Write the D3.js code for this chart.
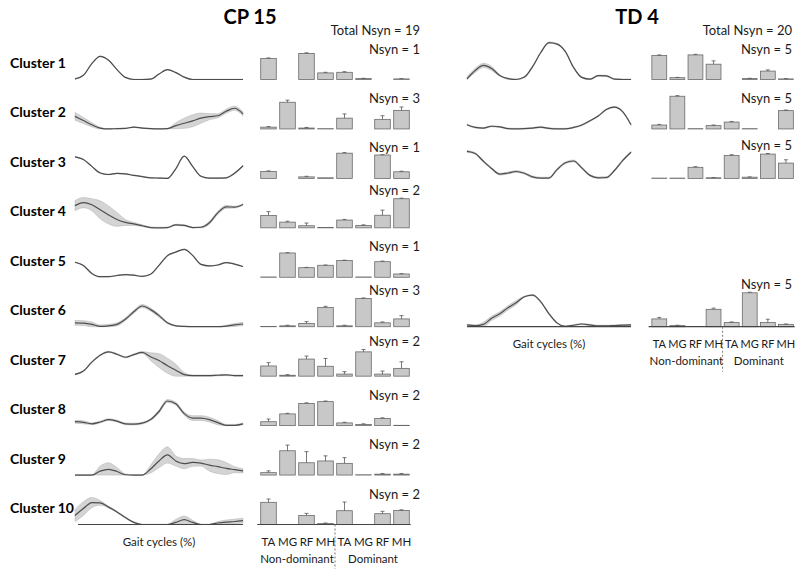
<!DOCTYPE html>
<html><head><meta charset="utf-8">
<script src="https://cdn.jsdelivr.net/npm/d3@7"></script>
<style>
body{margin:0;background:#fff;}
text{font-family:Lato,"Open Sans",sans-serif;fill:#1a1a1a;}
</style>
</head><body>
<svg id="chart" width="800" height="569"></svg>
<script>
// ---------------- DATA ----------------
const gaitPct = d3.range(0, 101, 5);                 // 0,5,...,100 % of gait cycle
const muscles = ["TA","MG","RF","MH","TA","MG","RF","MH"];
const sides = ["Non-dominant","Dominant"];

const cpTitle = "CP 15", tdTitle = "TD 4";
const cpTotal = 19, tdTotal = 20;
const cpClusters = ["Cluster 1","Cluster 2","Cluster 3","Cluster 4","Cluster 5","Cluster 6","Cluster 7","Cluster 8","Cluster 9","Cluster 10"];
const cpRows = [1,2,3,4,5,6,7,8,9,10];
const cpNsyn = [1,3,1,2,1,3,2,2,2,2];
const tdRows = [1,2,3,6];
const tdNsyn = [5,5,5,5];

// activation patterns (mean, normalised) for the CP clusters
const cpAct = [
 [0.02,0.14,0.53,0.77,0.64,0.33,0.07,0,0,0.01,0.18,0.33,0.23,0.08,0,0,0,0,0,0,0],
 [0.42,0.28,0.14,0.03,0,0.01,0.02,0.06,0.03,0.01,0,0.01,0.11,0.19,0.27,0.36,0.41,0.44,0.59,0.69,0.50],
 [0.72,0.63,0.40,0.18,0.13,0.17,0.15,0.10,0.06,0.02,0.01,0,0.32,0.74,0.40,0.07,0.01,0.01,0.02,0.17,0.42],
 [0.74,0.84,0.77,0.60,0.43,0.28,0.18,0.13,0.07,0.01,0,0.01,0.10,0.08,0.01,0.02,0.17,0.50,0.70,0.69,0.78],
 [0.50,0.39,0.13,0.02,0.02,0.06,0.09,0.07,0.03,0.10,0.40,0.72,0.84,0.93,0.73,0.43,0.38,0.41,0.49,0.44,0.36],
 [0.13,0.12,0.08,0.01,0.03,0.08,0.25,0.50,0.69,0.57,0.37,0.13,0.03,0.01,0,0,0,0,0.02,0.06,0.09],
 [0.06,0.17,0.47,0.70,0.81,0.73,0.63,0.72,0.79,0.65,0.52,0.35,0.20,0.05,0.02,0.02,0.02,0.03,0.04,0.02,0.02],
 [0.13,0.11,0.06,0.12,0.20,0.15,0.06,0.05,0.08,0.20,0.47,0.82,0.73,0.40,0.25,0.25,0.20,0.10,0.01,0.01,0.06],
 [0,0,0,0.13,0.19,0.12,0.01,0,0,0.20,0.47,0.67,0.47,0.38,0.42,0.40,0.33,0.28,0.22,0.18,0.14],
 [0.30,0.53,0.73,0.72,0.58,0.42,0.23,0.07,0,0,0,0,0.07,0.16,0.07,0,0,0.05,0.08,0.10,0.13]
];
const cpActSd = [
 [0.01,0.01,0.01,0.01,0.01,0.01,0.01,0.01,0.01,0.01,0.01,0.01,0.01,0.01,0.01,0.01,0.01,0.01,0.01,0.01,0.01],
 [0.13,0.10,0.07,0.03,0.01,0.01,0.01,0.01,0.01,0.01,0.01,0.01,0.10,0.17,0.20,0.17,0.10,0.07,0.07,0.07,0.07],
 [0.01,0.01,0.01,0.01,0.01,0.01,0.01,0.01,0.01,0.01,0.01,0.01,0.01,0.01,0.01,0.01,0.01,0.01,0.01,0.02,0.02],
 [0.17,0.17,0.20,0.30,0.30,0.23,0.10,0.05,0.03,0.02,0.02,0.02,0.02,0.02,0.02,0.02,0.05,0.05,0.05,0.03,0.02],
 [0.01,0.01,0.01,0.01,0.01,0.01,0.01,0.01,0.01,0.01,0.01,0.01,0.01,0.01,0.01,0.01,0.01,0.01,0.01,0.01,0.01],
 [0.08,0.08,0.08,0.05,0.05,0.05,0.05,0.05,0.05,0.05,0.05,0.03,0.01,0.01,0.01,0.01,0.01,0.01,0.03,0.05,0.05],
 [0.02,0.02,0.02,0.02,0.02,0.02,0.02,0.02,0.03,0.13,0.23,0.25,0.20,0.07,0.02,0.02,0.02,0.02,0.02,0.02,0.02],
 [0.05,0.05,0.03,0.03,0.03,0.03,0.03,0.03,0.03,0.03,0.05,0.05,0.05,0.05,0.08,0.08,0.08,0.07,0.03,0.03,0.03],
 [0.01,0.01,0.01,0.17,0.22,0.13,0.03,0.01,0.01,0.13,0.23,0.27,0.17,0.17,0.13,0.10,0.20,0.23,0.20,0.10,0.07],
 [0.20,0.23,0.17,0.08,0.03,0.02,0.02,0.02,0.01,0.01,0.01,0.01,0.10,0.12,0.07,0.01,0.01,0.05,0.07,0.08,0.08]
];
// muscle weightings (mean, sd) for the CP clusters
const cpW = [
 [0.70,0,0.87,0.22,0.24,0.03,0,0.02],
 [0.06,0.89,0.03,0.01,0.36,0,0.32,0.62],
 [0.23,0,0.05,0.02,0.84,0,0.78,0.22],
 [0.41,0.19,0.07,0.01,0.26,0.08,0.42,0.97],
 [0.01,0.81,0.32,0.40,0.56,0.01,0.52,0.11],
 [0.01,0.03,0.11,0.64,0.03,0.94,0.13,0.26],
 [0.34,0.03,0.57,0.33,0.07,0.81,0.07,0.26],
 [0.13,0.39,0.74,0.80,0.09,0.04,0.24,0.01],
 [0.08,0.81,0.41,0.47,0.39,0.01,0.03,0.03],
 [0.74,0,0.30,0.03,0.46,0,0.36,0.47]
];
const cpWSd = [
 [0.02,0,0.02,0.02,0.02,0.01,0,0.01],
 [0.02,0.07,0.02,0,0.14,0,0.12,0.11],
 [0.02,0,0.02,0,0.02,0,0.01,0.02],
 [0.13,0.03,0.09,0,0.02,0.02,0.17,0.02],
 [0,0.01,0.01,0.01,0.01,0,0.02,0.01],
 [0,0.02,0.06,0.04,0.02,0.02,0.03,0.11],
 [0.11,0.02,0.10,0.26,0.08,0.08,0.10,0.22],
 [0.09,0.02,0.02,0.02,0.02,0.02,0.02,0],
 [0.06,0.19,0.37,0.17,0.19,0,0.02,0.02],
 [0.11,0,0.07,0.02,0.29,0,0.08,0.02]
];
// TD synergies
const tdAct = [
 [0.02,0.30,0.47,0.37,0.13,0.03,0,0.08,0.43,0.90,1.23,1.18,0.93,0.40,0.07,0.01,0.13,0.12,0.01,0,0],
 [0.14,0.05,0.03,0.09,0.07,0.01,0,0.01,0.03,0.06,0.02,0,0,0.05,0.13,0.27,0.43,0.65,0.73,0.57,0.14],
 [0.90,0.83,0.57,0.33,0.14,0.18,0.23,0.17,0.05,0.01,0.01,0.30,0.52,0.58,0.35,0.10,0.02,0.03,0.27,0.60,0.87],
 [0.06,0.04,0.08,0.28,0.43,0.63,0.80,1.00,1.05,0.83,0.43,0.12,0.01,0.05,0.09,0.06,0.03,0.03,0.04,0.05,0.06]
];
const tdActSd = [
 [0.07,0.07,0.07,0.07,0.02,0.02,0.02,0.02,0.02,0.02,0.02,0.02,0.02,0.02,0.02,0.02,0.02,0.02,0.02,0.02,0.02],
 [0.02,0.02,0.02,0.02,0.02,0.02,0.02,0.02,0.02,0.02,0.02,0.02,0.02,0.02,0.02,0.02,0.02,0.02,0.02,0.02,0.02],
 [0.03,0.03,0.03,0.03,0.03,0.03,0.03,0.03,0.03,0.03,0.03,0.03,0.03,0.03,0.03,0.03,0.03,0.03,0.03,0.03,0.03],
 [0.02,0.02,0.07,0.07,0.07,0.07,0.07,0.02,0.02,0.02,0.02,0.02,0.02,0.02,0.02,0.02,0.02,0.02,0.02,0.02,0.02]
];
const tdW = [
 [0.80,0.06,0.82,0.51,0,0.03,0.28,0.02],
 [0.13,1.09,0.01,0.11,0.23,0.01,0,0.61],
 [0.01,0.01,0.37,0.02,0.76,0.04,0.81,0.51],
 [0.26,0.04,0,0.58,0.14,1.13,0.14,0.08]
];
const tdWSd = [
 [0.02,0.01,0.02,0.11,0,0.01,0.04,0.01],
 [0.02,0.02,0,0.02,0.02,0,0,0.02],
 [0,0,0.02,0.01,0.03,0.01,0.02,0.11],
 [0.05,0.01,0,0.04,0.02,0.02,0.11,0.01]
];

// ---------------- DRAWING ----------------
const svg = d3.select("#chart");
const rowY = d3.scaleLinear().domain([1, 10]).range([79.5, 524.5]);   // baseline of each row
const h = d3.scaleLinear().domain([0, 1]).range([0, 30]);              // value -> height

const LINE = "#4d4d4d", BAND = "#d4d4d4", BANDSTROKE = "#b0b0b0", BAR = "#c8c8c8", BARSTROKE = "#6a6a6a";

function panel(cfg) {
  const g = svg.append("g");
  const x = d3.scaleLinear().domain([0, 100]).range(cfg.lineRange);
  const xb = d3.scaleBand().domain(d3.range(muscles.length)).range(cfg.barRange).padding(0.18);

  svg.append("text").attr("x", cfg.titleX).attr("y", 16).attr("text-anchor", "middle")
     .attr("dominant-baseline", "central").attr("font-size", 20).attr("font-weight", "bold")
     .style("fill", "#000").text(cfg.title);
  svg.append("text").attr("x", cfg.labelX).attr("y", 30).attr("text-anchor", "end")
     .attr("dominant-baseline", "central").attr("font-size", 13).text("Total Nsyn = " + cfg.total);

  cfg.rows.forEach((r, i) => {
    const base = rowY(r);
    const line = d3.line().x((d, k) => x(gaitPct[k])).y(d => base - h(d)).curve(d3.curveMonotoneX);
    const area = d3.area().x((d, k) => x(gaitPct[k]))
       .y0((d, k) => base - h(Math.max(0, d - cfg.actSd[i][k])))
       .y1((d, k) => base - h(d + cfg.actSd[i][k])).curve(d3.curveMonotoneX);
    g.append("path").datum(cfg.act[i]).attr("d", area).attr("fill", BAND)
      .attr("stroke", BANDSTROKE).attr("stroke-width", 0.5);
    g.append("path").datum(cfg.act[i]).attr("d", line).attr("fill", "none")
      .attr("stroke", LINE).attr("stroke-width", 1.2);

    if (cfg.labels) {
      g.append("text").attr("x", 10).attr("y", base - 17).attr("dominant-baseline", "central")
        .attr("font-size", 14).attr("font-weight", "bold").style("fill", "#000").text(cfg.labels[i]);
    }

    // Nsyn label sits above the bars that lie beneath it
    const labelW = 50;
    let topUnder = base;
    cfg.w[i].forEach((v, m) => {
      if (xb(m) + xb.bandwidth() > cfg.labelX - labelW) topUnder = Math.min(topUnder, base - h(v + cfg.wSd[i][m]));
    });
    const ly = Math.min(base - 31, topUnder - 8);
    g.append("text").attr("x", cfg.labelX).attr("y", ly).attr("text-anchor", "end")
      .attr("dominant-baseline", "central").attr("font-size", 13).text("Nsyn = " + cfg.nsyn[i]);

    const bars = g.append("g");
    cfg.w[i].forEach((v, m) => {
      if (v <= 0) return;
      const x0 = xb(m), bw = xb.bandwidth(), top = base - h(v);
      bars.append("rect").attr("x", x0).attr("y", top).attr("width", bw).attr("height", h(v))
        .attr("fill", BAR).attr("stroke", BARSTROKE).attr("stroke-width", 0.8);
      const sd = cfg.wSd[i][m];
      if (sd > 0) {
        const cx = x0 + bw / 2, et = base - h(v + sd);
        bars.append("line").attr("x1", cx).attr("x2", cx).attr("y1", top).attr("y2", et)
          .attr("stroke", "#555").attr("stroke-width", 0.8);
        bars.append("line").attr("x1", cx - 2).attr("x2", cx + 2).attr("y1", et).attr("y2", et)
          .attr("stroke", "#555").attr("stroke-width", 0.8);
      }
    });
  });

  // bottom axes on last row
  const lastBase = rowY(cfg.rows[cfg.rows.length - 1]);
  g.append("line").attr("x1", x(0) + cfg.axisInset).attr("x2", x(100)).attr("y1", lastBase).attr("y2", lastBase)
    .attr("stroke", "#444").attr("stroke-width", 1.2);
  g.append("line").attr("x1", cfg.barRange[0]).attr("x2", cfg.barRange[1] - 2).attr("y1", lastBase).attr("y2", lastBase)
    .attr("stroke", "#444").attr("stroke-width", 1.2);
  g.append("text").attr("x", x(50)).attr("y", lastBase + 17).attr("text-anchor", "middle")
    .attr("dominant-baseline", "central").attr("font-size", 11.5).text("Gait cycles (%)");
  muscles.forEach((m, k) => {
    g.append("text").attr("x", xb(k) + xb.bandwidth() / 2).attr("y", lastBase + 17).attr("text-anchor", "middle")
      .attr("dominant-baseline", "central").attr("font-size", cfg.muscleFont).text(m);
  });
  sides.forEach((s, j) => {
    const c = (xb(j * 4) + xb(j * 4 + 3) + xb.bandwidth()) / 2;
    g.append("text").attr("x", c).attr("y", lastBase + 34).attr("text-anchor", "middle")
      .attr("dominant-baseline", "central").attr("font-size", 11.5).text(s);
  });
  const sep = (xb(3) + xb.bandwidth() + xb(4)) / 2;
  g.append("line").attr("x1", sep).attr("x2", sep).attr("y1", lastBase).attr("y2", lastBase + 45)
    .attr("stroke", "#777").attr("stroke-width", 1).attr("stroke-dasharray", "2,2");
}

panel({title: cpTitle, titleX: 250, total: cpTotal, rows: cpRows, labels: cpClusters, nsyn: cpNsyn,
       act: cpAct, actSd: cpActSd, w: cpW, wSd: cpWSd, labelX: 420, muscleFont: 11.5,
       lineRange: [75, 243], barRange: [257.3, 412.7], axisInset: 3});
panel({title: tdTitle, titleX: 637, total: tdTotal, rows: tdRows, labels: null, nsyn: tdNsyn,
       act: tdAct, actSd: tdActSd, w: tdW, wSd: tdWSd, labelX: 792, muscleFont: 11,
       lineRange: [467, 631], barRange: [648.6, 796.6], axisInset: 0});
</script>
</body></html>
